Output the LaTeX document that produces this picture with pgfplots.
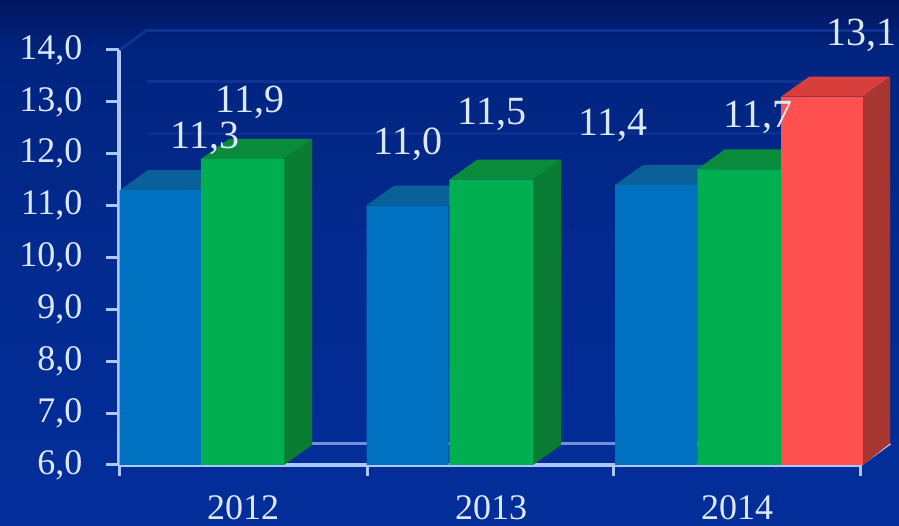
\documentclass[border=0pt]{standalone}
\usepackage{pgfplots}
\usepackage{fontspec}
\setmainfont{Liberation Serif}
\pgfplotsset{compat=1.18}
\definecolor{bgtop}{HTML}{001660}
\definecolor{bgmid}{HTML}{00247F}
\definecolor{bgbot}{HTML}{032E9A}
\definecolor{axisc}{HTML}{ACC6FF}
\definecolor{txt}{HTML}{DCE8FF}
\definecolor{bluef}{HTML}{0070C0}
\definecolor{bluet}{HTML}{0A6098}
\definecolor{greenf}{HTML}{00B050}
\definecolor{greent}{HTML}{0A8C3C}
\definecolor{greens}{HTML}{0A7C34}
\definecolor{redf}{HTML}{FF5050}
\definecolor{redt}{HTML}{D83E3C}
\definecolor{reds}{HTML}{A83630}
\definecolor{gridc}{HTML}{0F3394}
\pgfdeclareverticalshading{bgshade}{100bp}{
  color(0bp)=(bgbot);
  color(25bp)=(bgbot);
  color(50bp)=(bgbot!60!bgmid);
  color(70bp)=(bgmid);
  color(75bp)=(bgtop);
  color(100bp)=(bgtop)}
\begin{document}
\begin{tikzpicture}[x=1pt,y=1pt]
\path[use as bounding box] (0,0) rectangle (899,526);
\path[shading=bgshade, shading angle=0] (0,0) rectangle (899,526);
\begin{axis}[
  at={(119pt,61pt)}, anchor=origin,
  scale only axis, width=741pt, height=415pt,
  xmin=119, xmax=860, ymin=6, ymax=14,
  clip=false,
  axis x line*=bottom, axis y line*=left,
  axis line style={draw=axisc, line width=3.4pt},
  tick style={draw=axisc, line width=3pt},
  major tick length=13pt,
  minor tick length=11pt,
  tick align=outside,
  xtick={243,491,737},
  xticklabels={2012,2013,2014},
  major x tick style={draw=none},
  minor xtick={119,367,613,860},
  ytick={6,7,8,9,10,11,12,13,14},
  /pgf/number format/assume math mode=true,
  /pgf/number format/fixed,
  /pgf/number format/fixed zerofill,
  /pgf/number format/precision=1,
  /pgf/number format/use comma,
  yticklabel style={font=\fontsize{36}{40}\selectfont, text=txt, xshift=-20pt},
  xticklabel style={font=\fontsize{36}{36}\selectfont, text=txt, inner sep=0pt, yshift=-17pt},
  ybar, bar shift=0pt,
]
% back wall grid
\addplot[ybar=false, sharp plot, no marks, draw=gridc, line width=3pt] coordinates {(147,14.385)(890,14.385)};
\addplot[ybar=false, sharp plot, no marks, draw=gridc, line width=3pt] coordinates {(147,13.385)(890,13.385)};
\addplot[ybar=false, sharp plot, no marks, draw=gridc!70!bgmid, line width=3pt] coordinates {(147,12.385)(890,12.385)};
\addplot[ybar=false, sharp plot, no marks, draw=gridc, line width=3pt] coordinates {(120,14)(147,14.385)};
\addplot[ybar=false, sharp plot, no marks, draw=axisc!65!bgbot, line width=3pt] coordinates {(147,6.42)(890,6.42)};
\addplot[ybar=false, sharp plot, no marks, draw=axisc, line width=3pt] coordinates {(860,6)(890,6.42)};
% blue tops
\addplot[ybar=false, sharp plot, no marks, fill=bluet, draw=none] coordinates {(120,11.3)(148,11.685)(229,11.685)(201,11.3)} -- cycle;
\addplot[ybar=false, sharp plot, no marks, fill=bluet, draw=none] coordinates {(366,11.0)(394,11.385)(477,11.385)(449,11.0)} -- cycle;
\addplot[ybar=false, sharp plot, no marks, fill=bluet, draw=none] coordinates {(615,11.4)(643,11.785)(725,11.785)(697,11.4)} -- cycle;
% blue fronts
\addplot[fill=bluef, draw=none, bar width=82pt] coordinates {(160.5,11.3)(407.5,11.0)(656,11.4)};
% green tops and sides
\addplot[ybar=false, sharp plot, no marks, fill=greent, draw=none] coordinates {(201,11.9)(229,12.285)(312,12.285)(284,11.9)} -- cycle;
\addplot[ybar=false, sharp plot, no marks, fill=greens, draw=none] coordinates {(284,6)(312,6.385)(312,12.285)(284,11.9)} -- cycle;
\addplot[ybar=false, sharp plot, no marks, fill=greent, draw=none] coordinates {(449,11.5)(477,11.885)(561,11.885)(533,11.5)} -- cycle;
\addplot[ybar=false, sharp plot, no marks, fill=greens, draw=none] coordinates {(533,6)(561,6.385)(561,11.885)(533,11.5)} -- cycle;
\addplot[ybar=false, sharp plot, no marks, fill=greent, draw=none] coordinates {(697,11.7)(725,12.085)(809,12.085)(781,11.7)} -- cycle;
% green fronts
\addplot[fill=greenf, draw=none, bar width=83.5pt] coordinates {(242.5,11.9)(491,11.5)(739,11.7)};
% red
\addplot[ybar=false, sharp plot, no marks, fill=redt, draw=none] coordinates {(781,13.1)(809,13.485)(890,13.485)(863,13.1)} -- cycle;
\addplot[ybar=false, sharp plot, no marks, fill=reds, draw=none] coordinates {(863,6)(890,6.42)(890,13.485)(863,13.1)} -- cycle;
\addplot[fill=redf, draw=none, bar width=82pt] coordinates {(822,13.1)};
% value labels
\begin{scope}[every node/.style={font=\fontsize{40}{42}\selectfont, text=txt, anchor=base, inner sep=0pt}]
\node at (axis cs:205,{6+(465-148)/51.875}) {11,3};
\node at (axis cs:250,{6+(465-113)/51.875}) {11,9};
\node at (axis cs:408,{6+(465-155)/51.875}) {11,0};
\node at (axis cs:492,{6+(465-125)/51.875}) {11,5};
\node at (axis cs:613,{6+(465-135)/51.875}) {11,4};
\node at (axis cs:758,{6+(465-128)/51.875}) {11,7};
\node at (axis cs:861,{6+(465-45)/51.875}) {13,1};
\end{scope}
\end{axis}
\end{tikzpicture}
\end{document}
